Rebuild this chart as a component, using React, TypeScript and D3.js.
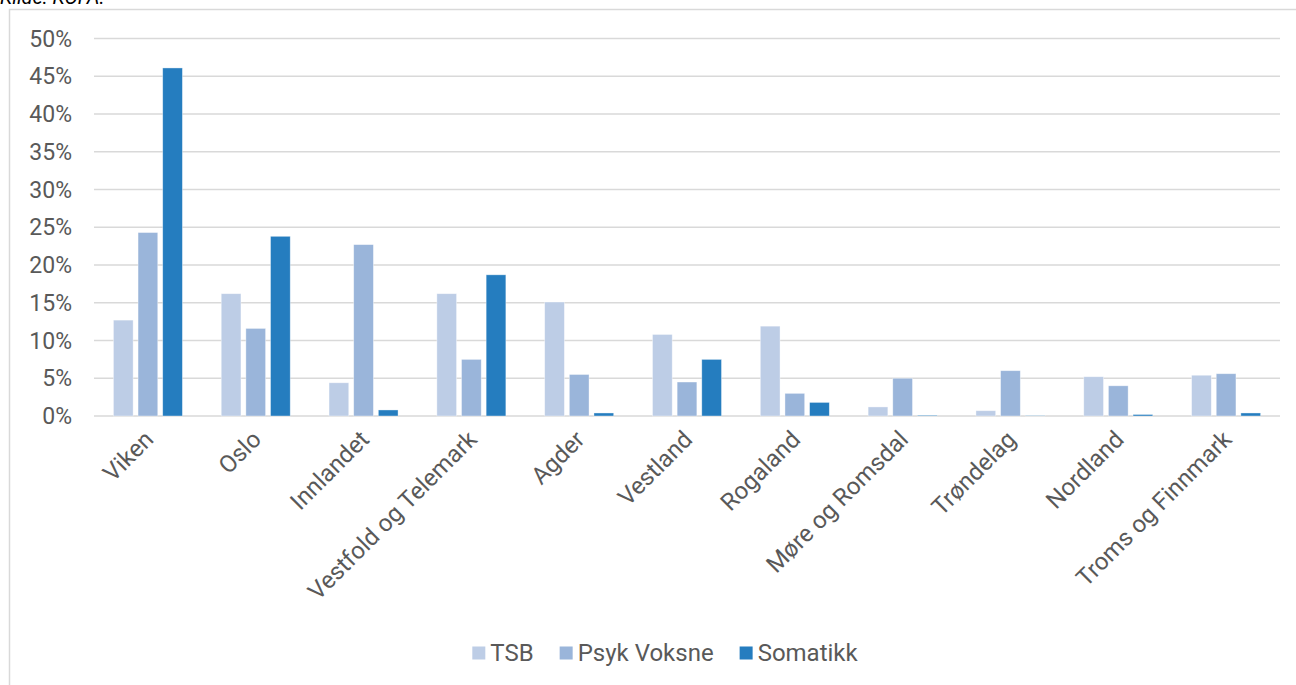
import React, { useEffect, useRef } from "react";
import * as d3 from "d3";

// Regions on the x axis
const categories = [
  "Viken",
  "Oslo",
  "Innlandet",
  "Vestfold og Telemark",
  "Agder",
  "Vestland",
  "Rogaland",
  "Møre og Romsdal",
  "Trøndelag",
  "Nordland",
  "Troms og Finnmark",
];

const seriesNames = ["TSB", "Psyk Voksne", "Somatikk"];

// Share of total, in percent
const tsb = [12.7, 16.2, 4.4, 16.2, 15.1, 10.8, 11.9, 1.2, 0.7, 5.2, 5.4];
const psykVoksne = [24.3, 11.6, 22.7, 7.5, 5.5, 4.5, 3.0, 5.0, 6.0, 4.0, 5.6];
const somatikk = [46.1, 23.8, 0.8, 18.7, 0.4, 7.5, 1.8, 0.1, 0.05, 0.2, 0.4];

const seriesColors = ["#BDCDE6", "#9AB5DA", "#257DBF"];

const yTicks = [0, 5, 10, 15, 20, 25, 30, 35, 40, 45, 50];

const W = 1296;
const H = 685;
const FONT = "Roboto, 'Noto Sans', sans-serif";
const FS = 23;
const FS_LABEL = 24;
const TEXT = "#595959";
const GRID = "#D9D9D9";

export default function App() {
  const ref = useRef<SVGSVGElement | null>(null);

  useEffect(() => {
    const svg = d3.select(ref.current);
    svg.selectAll("*").remove();

    const plot = { left: 94, right: 1280, top: 38.5, bottom: 416 };

    // Source note, mostly above the top edge
    svg
      .append("text")
      .attr("x", 0)
      .attr("y", 4)
      .attr("font-family", FONT)
      .attr("font-style", "italic")
      .attr("font-size", 20)
      .attr("fill", "#000")
      .text("Kilde: KOFA.");

    // Chart frame
    svg
      .append("rect")
      .attr("x", 9.5)
      .attr("y", 9.5)
      .attr("width", W + 20)
      .attr("height", H + 20)
      .attr("fill", "none")
      .attr("stroke", GRID)
      .attr("stroke-width", 1.5);

    const y = d3.scaleLinear().domain([0, 50]).range([plot.bottom, plot.top]);
    const x0 = d3
      .scaleBand<string>()
      .domain(categories)
      .range([plot.left, plot.right])
      .padding(0);
    const x1 = d3
      .scaleBand<string>()
      .domain(seriesNames)
      .range([-34.5, 34.5])
      .paddingInner(0.2)
      .paddingOuter(0);

    // Gridlines
    svg
      .append("g")
      .selectAll("line")
      .data(yTicks)
      .join("line")
      .attr("x1", plot.left)
      .attr("x2", plot.right)
      .attr("y1", (d) => y(d))
      .attr("y2", (d) => y(d))
      .attr("stroke", GRID)
      .attr("stroke-width", 1.5);

    // Y tick labels
    svg
      .append("g")
      .selectAll("text")
      .data(yTicks)
      .join("text")
      .attr("x", 72)
      .attr("y", (d) => y(d))
      .attr("dy", "0.35em")
      .attr("text-anchor", "end")
      .attr("font-family", FONT)
      .attr("font-size", FS)
      .attr("fill", TEXT)
      .text((d) => `${d}%`);

    // Bars
    const values = [tsb, psykVoksne, somatikk];
    const rows = categories.flatMap((c, i) =>
      seriesNames.map((s, j) => ({ c, s, j, v: values[j][i] }))
    );
    svg
      .append("g")
      .selectAll("rect")
      .data(rows)
      .join("rect")
      .attr("x", (d) => (x0(d.c) as number) + x0.bandwidth() / 2 + (x1(d.s) as number))
      .attr("width", x1.bandwidth())
      .attr("y", (d) => y(d.v))
      .attr("height", (d) => y(0) - y(d.v))
      .attr("fill", (d) => seriesColors[d.j])
      .attr("stroke", "#ffffff")
      .attr("stroke-opacity", 0.5)
      .attr("stroke-width", 0.75);

    // Category labels, rotated
    svg
      .append("g")
      .selectAll("text")
      .data(categories)
      .join("text")
      .attr(
        "transform",
        (d) => `translate(${(x0(d) as number) + x0.bandwidth() / 2 + 1},${plot.bottom + 19}) rotate(-45)`
      )
      .attr("dy", "0.35em")
      .attr("text-anchor", "end")
      .attr("font-family", FONT)
      .attr("font-size", FS_LABEL)
      .attr("fill", TEXT)
      .text((d) => d);

    // Legend
    const legend = svg.append("g");
    const items = seriesNames.map((name, i) => {
      const g = legend.append("g");
      g.append("rect")
        .attr("x", 0)
        .attr("y", -6.5)
        .attr("width", 13)
        .attr("height", 13)
        .attr("fill", seriesColors[i]);
      const t = g
        .append("text")
        .attr("x", 18)
        .attr("y", 0)
        .attr("dy", "0.35em")
        .attr("font-family", FONT)
        .attr("font-size", FS_LABEL)
        .attr("fill", TEXT)
        .text(name);
      const w = 18 + (t.node() as SVGTextElement).getComputedTextLength();
      return { g, w };
    });
    const gap = 26;
    const total = d3.sum(items, (d) => d.w) + gap * (items.length - 1);
    let cx = 665 - total / 2;
    items.forEach((it) => {
      it.g.attr("transform", `translate(${cx},653)`);
      cx += it.w + gap;
    });
  }, []);

  return (
    <svg
      ref={ref}
      width={W}
      height={H}
      style={{ position: "absolute", left: 0, top: 0, background: "#fff" }}
    />
  );
}
